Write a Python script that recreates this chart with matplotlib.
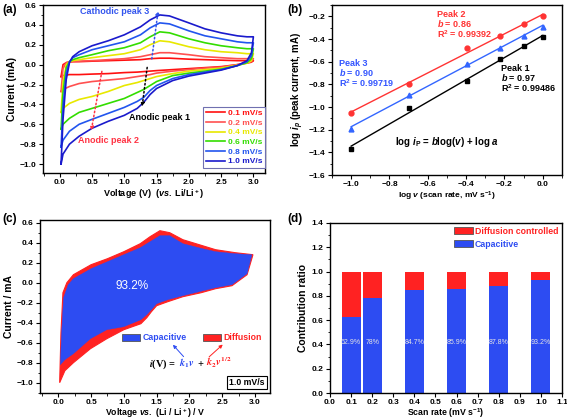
import matplotlib
matplotlib.use('Agg')
import matplotlib.pyplot as plt
import numpy as np
from matplotlib.patches import Patch
from matplotlib.ticker import MultipleLocator

plt.rcParams['font.family'] = ['Liberation Sans', 'DejaVu Sans']
plt.rcParams['font.weight'] = 'bold'
plt.rcParams['axes.labelweight'] = 'bold'
plt.rcParams['font.size'] = 6
plt.rcParams['mathtext.fontset'] = 'custom'
plt.rcParams['mathtext.rm'] = 'Liberation Sans:bold'
plt.rcParams['mathtext.it'] = 'Liberation Sans:italic:bold'
plt.rcParams['mathtext.bf'] = 'Liberation Sans:bold'
plt.rcParams['axes.linewidth'] = 1.0
plt.rcParams['xtick.major.size'] = 3
plt.rcParams['ytick.major.size'] = 3
plt.rcParams['xtick.minor.size'] = 1.8
plt.rcParams['ytick.minor.size'] = 1.8
plt.rcParams['xtick.major.pad'] = 1.5
plt.rcParams['ytick.major.pad'] = 2
plt.rcParams['axes.labelpad'] = 2

# ---- (a) CV curves at different scan rates
rates = ['0.1 mV/s', '0.2 mV/s', '0.4 mV/s', '0.6 mV/s', '0.8 mV/s', '1.0 mV/s']
cv_colors = ['#ff1010', '#ff5050', '#e8e800', '#33dd00', '#2255ee', '#1a1acc']
v_up = [0.02, 0.05, 0.1, 0.15, 0.2, 0.3, 0.5, 0.75, 1.0, 1.25, 1.4, 1.55, 1.7, 2.0, 2.25, 2.5, 2.75, 2.9, 3.0]
v_down = [3.0, 2.97, 2.9, 2.75, 2.5, 2.25, 2.0, 1.75, 1.5, 1.4, 1.3, 1.2, 1.0, 0.75, 0.5, 0.3, 0.15, 0.05, 0.02]
i_up = [
    [-0.12, 0.0, 0.02, 0.025, 0.03, 0.03, 0.035, 0.04, 0.045, 0.05, 0.06, 0.065, 0.065, 0.055, 0.05, 0.045, 0.04, 0.04, 0.04],
    [-0.27, -0.04, 0.02, 0.03, 0.03, 0.035, 0.04, 0.05, 0.06, 0.08, 0.10, 0.12, 0.12, 0.10, 0.08, 0.07, 0.06, 0.06, 0.06],
    [-0.48, -0.18, 0.0, 0.03, 0.04, 0.05, 0.07, 0.09, 0.11, 0.15, 0.20, 0.24, 0.23, 0.18, 0.15, 0.13, 0.12, 0.11, 0.11],
    [-0.65, -0.28, -0.03, 0.03, 0.05, 0.07, 0.10, 0.14, 0.17, 0.22, 0.28, 0.33, 0.32, 0.26, 0.22, 0.19, 0.17, 0.16, 0.16],
    [-0.83, -0.42, -0.08, 0.03, 0.07, 0.10, 0.15, 0.19, 0.23, 0.30, 0.37, 0.42, 0.41, 0.34, 0.29, 0.26, 0.23, 0.22, 0.22],
    [-1.0, -0.55, -0.15, 0.02, 0.08, 0.13, 0.19, 0.24, 0.30, 0.38, 0.45, 0.50, 0.49, 0.42, 0.36, 0.32, 0.29, 0.28, 0.28],
]
i_down = [
    [0.04, 0.025, 0.015, 0.0, -0.02, -0.03, -0.04, -0.05, -0.06, -0.065, -0.07, -0.075, -0.08, -0.09, -0.095, -0.10, -0.10, -0.11, -0.12],
    [0.06, 0.03, 0.02, 0.0, -0.025, -0.035, -0.05, -0.065, -0.085, -0.10, -0.11, -0.12, -0.14, -0.155, -0.17, -0.19, -0.22, -0.25, -0.27],
    [0.11, 0.04, 0.015, -0.005, -0.035, -0.05, -0.065, -0.09, -0.12, -0.14, -0.16, -0.18, -0.21, -0.27, -0.32, -0.35, -0.39, -0.44, -0.48],
    [0.16, 0.06, 0.02, -0.01, -0.045, -0.065, -0.085, -0.11, -0.17, -0.21, -0.25, -0.28, -0.34, -0.39, -0.44, -0.48, -0.54, -0.60, -0.65],
    [0.22, 0.09, 0.03, -0.01, -0.05, -0.075, -0.10, -0.14, -0.21, -0.26, -0.33, -0.37, -0.43, -0.49, -0.55, -0.60, -0.67, -0.76, -0.83],
    [0.28, 0.12, 0.04, -0.01, -0.055, -0.085, -0.115, -0.16, -0.24, -0.30, -0.38, -0.44, -0.51, -0.57, -0.64, -0.72, -0.80, -0.90, -1.0],
]

# ---- (b) log(peak current) vs log(scan rate)
log_v = [-1.0, -0.699, -0.398, -0.222, -0.097, 0.0]
peak2 = [-1.05, -0.80, -0.48, -0.375, -0.27, -0.20]
peak3 = [-1.19, -0.89, -0.62, -0.475, -0.37, -0.29]
peak1 = [-1.37, -1.01, -0.77, -0.58, -0.46, -0.38]

# ---- (c) capacitive vs total current at 1.0 mV/s
tot_v_up = [0.02, 0.04, 0.07, 0.13, 0.23, 0.5, 0.75, 1.0, 1.25, 1.4, 1.55, 1.7, 1.9, 2.2, 2.4, 2.7, 2.97]
tot_i_up = [-1.0, -0.5, -0.1, 0.0, 0.08, 0.18, 0.24, 0.31, 0.39, 0.46, 0.52, 0.50, 0.43, 0.37, 0.33, 0.30, 0.28]
tot_v_dn = [2.97, 2.88, 2.65, 2.4, 2.18, 1.9, 1.67, 1.5, 1.42, 1.35, 1.26, 1.0, 0.74, 0.49, 0.23, 0.1, 0.02]
tot_i_dn = [0.28, 0.08, -0.03, -0.06, -0.10, -0.14, -0.19, -0.23, -0.29, -0.35, -0.41, -0.47, -0.56, -0.66, -0.80, -0.88, -1.0]
cap_v_up = [0.03, 0.05, 0.08, 0.15, 0.23, 0.5, 0.75, 1.0, 1.25, 1.4, 1.55, 1.7, 1.9, 2.2, 2.4, 2.7, 2.95]
cap_i_up = [-0.82, -0.5, -0.15, -0.02, 0.04, 0.14, 0.21, 0.28, 0.35, 0.41, 0.47, 0.47, 0.39, 0.34, 0.31, 0.29, 0.28]
cap_v_dn = [2.95, 2.88, 2.65, 2.4, 2.18, 1.9, 1.67, 1.5, 1.42, 1.35, 1.26, 1.0, 0.74, 0.49, 0.23, 0.1, 0.03]
cap_i_dn = [0.27, 0.09, -0.02, -0.05, -0.085, -0.13, -0.17, -0.21, -0.27, -0.32, -0.37, -0.44, -0.47, -0.56, -0.71, -0.77, -0.82]

# ---- (d) contribution ratio
scan_rates = [0.1, 0.2, 0.4, 0.6, 0.8, 1.0]
cap_frac = [0.629, 0.78, 0.847, 0.859, 0.878, 0.932]
diff_frac = [0.371, 0.22, 0.153, 0.141, 0.122, 0.068]
pct_labels = ['62.9%', '78%', '84.7%', '85.9%', '87.8%', '93.2%']

RED = '#ff2222'
BLUE = '#2d4cf2'

W, H = 567, 420
def box(l, t, r, b):
    return [l / W, 1 - b / H, (r - l) / W, (b - t) / H]

fig = plt.figure(figsize=(W / 100, H / 100), dpi=100)
renderer = fig.canvas.get_renderer()

# ================= (a)
ax = fig.add_axes(box(43, 5, 265, 173))
lines = []
for k in range(len(rates)):
    vv = v_up + v_down
    ii = i_up[k] + i_down[k]
    ln, = ax.plot(vv, ii, color=cv_colors[k], lw=1.2, label=rates[k])
    lines.append(ln)
ax.set_xlim(-0.26, 3.18)
ax.set_ylim(-1.09, 0.6)
ax.xaxis.set_major_locator(MultipleLocator(0.5))
ax.xaxis.set_minor_locator(MultipleLocator(0.25))
ax.yaxis.set_major_locator(MultipleLocator(0.2))
ax.yaxis.set_minor_locator(MultipleLocator(0.1))
ax.set_xlabel('Voltage (V)  ($\\mathit{vs.}$ Li/Li$^+$)', fontsize=6.5, labelpad=1)
ax.set_ylabel('Current (mA)', fontsize=7.5)
leg = ax.legend(loc='lower right', bbox_to_anchor=(1.0, 0.03), borderaxespad=0,
                fontsize=6, fancybox=False, edgecolor='#7070b0', framealpha=1,
                handlelength=2.3, handletextpad=0.4, labelspacing=0.22, borderpad=0.3)
leg.get_frame().set_linewidth(0.8)
for t, ln in zip(leg.get_texts(), lines):
    t.set_color(ln.get_color())
ax.text(0.85, 0.53, 'Cathodic peak 3', color='#3355ee', fontsize=6.5, ha='center', va='center')
ax.annotate('', xy=(1.53, 0.57), xytext=(1.42, 0.03),
            arrowprops=dict(arrowstyle='-|>', ls=':', color='#3355ee', lw=1.1, mutation_scale=5))
ax.text(1.55, -0.53, 'Anodic peak 1', color='black', fontsize=6.5, ha='center', va='center')
ax.annotate('', xy=(1.27, -0.45), xytext=(1.36, 0.0),
            arrowprops=dict(arrowstyle='-|>', ls=':', color='black', lw=1.1, mutation_scale=5))
ax.text(0.75, -0.76, 'Anodic peak 2', color='#ff3344', fontsize=6.5, ha='center', va='center')
ax.annotate('', xy=(0.48, -0.69), xytext=(0.66, -0.04),
            arrowprops=dict(arrowstyle='-|>', ls=':', color='#ff3344', lw=1.1, mutation_scale=5))

# ================= (b)
ax = fig.add_axes(box(332, 5, 562, 175))
xs = np.array(log_v)
for ys, col, mk in [(peak2, '#ff3333', 'o'), (peak3, '#3366ff', '^'), (peak1, 'black', 's')]:
    p = np.polyfit(xs, ys, 1)
    ax.plot(xs, np.polyval(p, xs), color=col, lw=1.0)
    ax.plot(xs, ys, mk, color=col, ms=3.5, ls='none')
ax.set_xlim(-1.1, 0.1)
ax.set_ylim(-1.6, -0.1)
ax.xaxis.set_major_locator(MultipleLocator(0.2))
ax.xaxis.set_minor_locator(MultipleLocator(0.1))
ax.yaxis.set_major_locator(MultipleLocator(0.2))
ax.yaxis.set_minor_locator(MultipleLocator(0.1))
ax.set_xlabel('log $\\mathit{v}$ (scan rate, mV s$^{-1}$)', fontsize=6, labelpad=1)
ax.set_ylabel('log $\\mathit{i}_\\mathit{p}$ (peak current, mA)', fontsize=7)
row_dy = [0, -0.08, -0.175]
for dy, txt in zip(row_dy, ['Peak 2', '$\\mathit{b}$ = 0.86', 'R$^2$ = 0.99392']):
    ax.text(-0.55, -0.185 + dy, txt, color='#ff3333', fontsize=6.5, va='center')
for dy, txt in zip(row_dy, ['Peak 3', '$\\mathit{b}$ = 0.90', 'R$^2$ = 0.99719']):
    ax.text(-1.065, -0.615 + dy, txt, color='#3355ff', fontsize=6.5, va='center')
for dy, txt in zip(row_dy, ['Peak 1', '$\\mathit{b}$ = 0.97', 'R$^2$ = 0.99486']):
    ax.text(-0.22, -0.66 + dy, txt, color='black', fontsize=6.5, va='center')
ax.text(-0.50, -1.31, 'log $\\mathit{i}_\\mathrm{P}$ = $\\mathit{b}$log($\\mathit{v}$) + log $\\mathit{a}$',
        fontsize=7, ha='center', va='center')

# ================= (c)
ax = fig.add_axes(box(40, 220, 270, 393))
ax.fill(tot_v_up + tot_v_dn, tot_i_up + tot_i_dn, facecolor=RED, edgecolor=RED, lw=0.8)
ax.fill(cap_v_up + cap_v_dn, cap_i_up + cap_i_dn, facecolor=BLUE, edgecolor=BLUE, lw=0.3)
ax.set_xlim(-0.28, 3.23)
ax.set_ylim(-1.103, 0.627)
ax.xaxis.set_major_locator(MultipleLocator(0.5))
ax.xaxis.set_minor_locator(MultipleLocator(0.25))
ax.yaxis.set_major_locator(MultipleLocator(0.2))
ax.yaxis.set_minor_locator(MultipleLocator(0.1))
ax.set_xlabel('Voltage $\\mathit{vs.}$ (Li / Li$^+$) / V', fontsize=6.3, labelpad=0)
ax.set_ylabel('Current / mA', fontsize=7.5)
ax.text(1.13, -0.03, '93.2%', color='white', fontsize=8.5, fontweight='normal', ha='center', va='center')
hs = [Patch(facecolor=BLUE, edgecolor='#555555', lw=0.6, label='Capacitive'),
      Patch(facecolor=RED, edgecolor='#555555', lw=0.6, label='Diffusion')]
leg = ax.legend(handles=hs, ncol=2, loc='center', bbox_to_anchor=(0.66, 0.318), frameon=False,
                fontsize=6.3, handlelength=2.1, handleheight=0.9, handletextpad=0.25, columnspacing=1.9)
for t, c in zip(leg.get_texts(), [BLUE, RED]):
    t.set_color(c)
# equation, coloured pieces placed one after another on a common baseline
eq_kw = dict(fontsize=7.5, family='Liberation Serif', fontweight='bold', math_fontfamily='stix',
             va='baseline', ha='left')
x_eq = 1.38
for txt, col in [('$\\mathit{i}$(V) =', 'black'), ('$\\mathit{k}_1\\mathit{v}$', BLUE), ('+', 'black'),
                 ('$\\mathit{k}_2\\mathit{v}^{1/2}$', RED)]:
    t = ax.text(x_eq, -0.84, txt, color=col, **eq_kw)
    bb = t.get_window_extent(renderer).transformed(ax.transData.inverted())
    x_eq = bb.x1 + 0.04
ax.annotate('', xy=(1.72, -0.60), xytext=(1.94, -0.76),
            arrowprops=dict(arrowstyle='-|>', color=BLUE, lw=0.7, mutation_scale=5))
ax.annotate('', xy=(2.54, -0.60), xytext=(2.27, -0.76),
            arrowprops=dict(arrowstyle='-|>', color=RED, lw=0.7, mutation_scale=5))
ax.text(0.978, 0.035, '1.0 mV/s', transform=ax.transAxes, ha='right', va='bottom', fontsize=6.3,
        bbox=dict(boxstyle='square,pad=0.25', fc='white', ec='black', lw=0.8))

# ================= (d)
ax = fig.add_axes(box(330, 223, 562, 393))
ax.bar(scan_rates, cap_frac, width=0.09, color=BLUE, label='Capacitive')
ax.bar(scan_rates, diff_frac, width=0.09, bottom=cap_frac, color=RED, label='Diffusion controlled')
for x, lab in zip(scan_rates, pct_labels):
    ax.text(x, 0.42, lab, color='#e4e4e4', fontsize=5, fontweight='normal', ha='center', va='center')
ax.set_xlim(0, 1.1)
ax.set_ylim(0, 1.4)
ax.xaxis.set_major_locator(MultipleLocator(0.1))
ax.yaxis.set_major_locator(MultipleLocator(0.2))
ax.yaxis.set_minor_locator(MultipleLocator(0.1))
ax.set_xlabel('Scan rate (mV s$^{-1}$)', fontsize=6.3, labelpad=0)
ax.set_ylabel('Contribution ratio', fontsize=7.5)
hs = [Patch(facecolor=RED, edgecolor='#555555', lw=0.6, label='Diffusion controlled'),
      Patch(facecolor=BLUE, edgecolor='#555555', lw=0.6, label='Capacitive')]
leg = ax.legend(handles=hs, loc='upper right', frameon=False, fontsize=6.3, borderaxespad=0.2,
                borderpad=0.2, handlelength=2.1, handleheight=0.9, handletextpad=0.25, labelspacing=0.5)
for t, c in zip(leg.get_texts(), [RED, BLUE]):
    t.set_color(c)

for ax in fig.axes:
    ax.tick_params(labelsize=6)

# panel letters
fig.text(2 / W, 1 - 4 / H, '(a)', fontsize=8.5, va='top')
fig.text(287 / W, 1 - 4 / H, '(b)', fontsize=8.5, va='top')
fig.text(2 / W, 1 - 213 / H, '(c)', fontsize=8.5, va='top')
fig.text(287 / W, 1 - 213 / H, '(d)', fontsize=8.5, va='top')

fig.savefig('out.png', dpi=100)
